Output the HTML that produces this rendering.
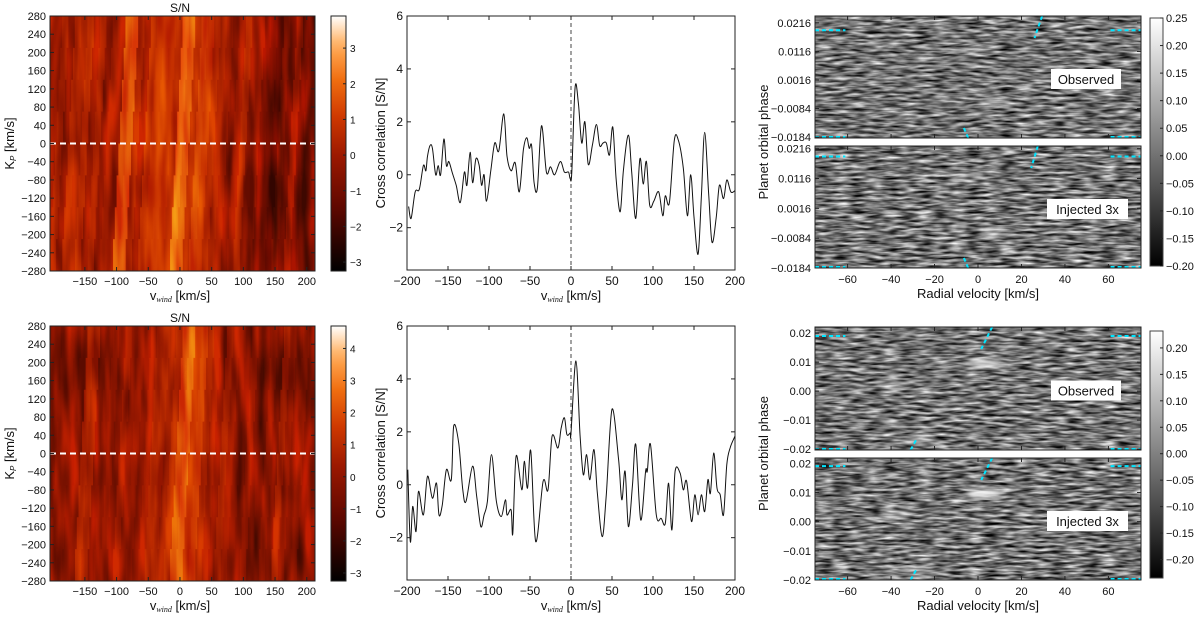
<!DOCTYPE html>
<html><head><meta charset="utf-8"><style>
body{margin:0;background:#fff}
svg{display:block;font-family:"Liberation Sans","DejaVu Sans",sans-serif}
</style></head><body>
<svg id="fig" width="1200" height="618" viewBox="0 0 1200 618" xmlns="http://www.w3.org/2000/svg">
<defs>
<filter id="fire" x="0" y="0" width="100%" height="100%" color-interpolation-filters="sRGB">
<feTurbulence type="fractalNoise" baseFrequency="0.09 0.012" numOctaves="2" seed="3"/>
<feColorMatrix type="matrix" values="2 0 0 0 -0.5  2 0 0 0 -0.5  2 0 0 0 -0.5  0 0 0 0 1"/>
</filter>
<filter id="grain" x="0" y="0" width="100%" height="100%" color-interpolation-filters="sRGB">
<feTurbulence type="fractalNoise" baseFrequency="0.06 0.35" numOctaves="2" seed="7"/>
<feColorMatrix type="matrix" values="1.4 0 0 0 -0.25  1.4 0 0 0 -0.25  1.4 0 0 0 -0.25  0 0 0 0 1"/>
</filter>
<filter id="grain2" x="0" y="0" width="100%" height="100%" color-interpolation-filters="sRGB">
<feTurbulence type="fractalNoise" baseFrequency="0.06 0.35" numOctaves="2" seed="11"/>
<feColorMatrix type="matrix" values="1.4 0 0 0 -0.25  1.4 0 0 0 -0.25  1.4 0 0 0 -0.25  0 0 0 0 1"/>
</filter>
<filter id="blur3"><feGaussianBlur stdDeviation="3"/></filter>
</defs>
</svg>
<script>
// ---------- data ----------
const heatCols = [-220,-210,-200,-190,-180,-170,-160,-150,-140,-130,-120,-110,-100,-90,-80,-70,-60,-50,-40,-30,-20,-10,0,10,20,30,40,50,60,70,80,90,100,110,120,130,140,150,160,170,180,190,200,210,220];
const heatTop = [0.5,0.5,0.5,0.8,0.3,1,0.8,1.2,0.5,0.8,0.3,0.6,0.5,2,2.2,1,0.5,1.3,1.5,1.6,1.5,1.3,2.5,2.2,1.2,1.8,1.6,1.2,0.8,0.6,0.2,0.5,0.9,0.4,0.3,-0.3,-0.5,-0.8,-0.2,-0.5,0.3,-0.5,-0.3,-0.3,-0.3];
const heatBot = [0.3,0.3,0.3,0.5,0.6,0.4,0.6,1.5,1.2,0.3,0.5,0.8,0.4,1.0,0.6,0.8,0.5,0.9,1.3,1.5,1.2,1.6,2.5,2.8,2.0,2.2,1.4,1.0,0.6,1.2,0.9,0.6,0.4,0.8,0.3,0.2,0.6,0.3,1.2,0.8,0.4,0.6,0.2,0.3,0.3];
const kpTicks = [280,240,200,160,120,80,40,0,-40,-80,-120,-160,-200,-240,-280];
const vwTicks = [-150,-100,-50,0,50,100,150,200];
const ccTicksX = [-200,-150,-100,-50,0,50,100,150,200];
const ccTicksY = [6,4,2,0,-2];
const ccTopV = [-198,-195,-190,-185,-180,-177,-175,-172,-169,-165,-162,-159,-155,-152,-149,-145,-140,-135,-130,-127,-123,-120,-116,-112,-109,-106,-103,-98,-93,-88,-82,-78,-73,-68,-63,-58,-54,-51,-48,-45,-41,-36,-30,-25,-20,-13,-8,-3,-1,1,5,9,13,17,21,26,31,35,39,43,47,51,55,60,64,70,74,79,84,88,92,96,101,107,112,115,120,126,131,137,142,146,150,155,159,163,168,172,177,181,186,190,195,200];
const ccTopS = [-1.2,-1.65,-0.65,-0.55,0.35,0.15,0.7,1.1,1.0,0,0.35,0,1.35,0.35,0.5,0.1,-0.4,-1.05,0.1,-0.4,0.85,-0.3,0.6,0.35,-0.4,0,-1,0.1,1.2,0.9,2.3,0.7,0.15,0.45,-0.65,0.95,1.4,1.0,1.1,-0.3,-0.5,1.85,0.1,0.3,0,0.5,0.1,0.1,-0.15,0.1,3.3,2.7,1.2,2.0,0.4,1.1,1.9,1.1,1.2,1.2,0.75,1.8,-0.15,-1.4,0.2,1.5,0.1,-1.65,0.6,-0.35,0.5,-1.15,-1,-0.65,-1.55,-0.8,-1.05,1.3,1.3,0.25,-1.55,0,-1.6,-3.0,-0.8,1.6,-0.8,-2.55,-1.65,-0.4,-0.9,-0.2,-0.65,-0.6];
const ccBotV = [-199,-196,-193,-189,-186,-180,-175,-169,-164,-161,-157,-152,-146,-143,-137,-132,-128,-120,-115,-110,-106,-102,-97,-91,-85,-80,-78,-73,-71,-67,-60,-57,-53,-49,-43,-34,-28,-23,-16,-12,-8,-5,-1,0,6,11,15,19,23,28,32,38,43,50,58,62,66,70,75,79,85,91,93,97,104,110,115,119,123,127,133,137,141,147,151,155,159,163,167,170,174,178,182,186,190,194,200];
const ccBotS = [0.57,-2.15,-0.82,-1.77,-0.25,-1.14,0.32,-0.51,0.06,-1.14,-0.76,0.57,0.19,2.22,1.58,-0.19,-0.63,0.7,-0.44,-1.58,-1.14,-0.63,1.14,-0.63,-1.2,-0.57,-1.14,-0.95,-1.84,1.08,-0.19,0.89,-0.13,1.27,-2.15,0.13,-0.19,1.84,1.39,2.15,2.53,1.9,1.96,1.96,4.68,1.9,0.38,1.14,0.19,1.33,-0.25,-1.96,-0.38,2.85,0.95,-0.57,0.51,-1.58,0,1.52,-1.33,0.51,0.51,1.52,-1.14,-1.27,-1.46,0.06,-1.71,0.51,0.44,-0.19,0.13,-1.39,-0.38,-1.14,-0.38,-1.01,0.19,-0.32,1.2,-0.13,-0.38,-1.14,0.76,1.39,1.84];
const rvTicks = [-60,-40,-20,0,20,40,60];
const phTicksA = [0.0216,0.0116,0.0016,-0.0084,-0.0184];
const phLabelsA = ["0.0216","0.0116","0.0016","\u22120.0084","\u22120.0184"];
const phTicksB = [0.02,0.01,0.00,-0.01,-0.02];
const phLabelsB = ["0.02","0.01","0.00","\u22120.01","\u22120.02"];
const cbHeatTopTicks = [3,2,1,0,-1,-2,-3];
const cbHeatBotTicks = [4,3,2,1,0,-1,-2,-3];
const cbGrayTopTicks = [0.25,0.20,0.15,0.10,0.05,0.00,-0.05,-0.10,-0.15,-0.20];
const cbGrayBotTicks = [0.20,0.15,0.10,0.05,0.00,-0.05,-0.10,-0.15,-0.20];
const blobsTop = [[8,-0.006,0.5],[-5,0.012,0.35]];
const blobsBot = [[3,0.0095,1.0],[-28,-0.017,0.5],[-38,0.002,0.4]];

// ---------- helpers ----------
const svg = document.getElementById('fig');
const NS = 'http://www.w3.org/2000/svg';
function mk(tag, attrs, parent){ const e=document.createElementNS(NS,tag); for(const k in attrs) e.setAttribute(k,attrs[k]); (parent||svg).appendChild(e); return e; }
function lin(d0,d1,r0,r1){ return v=> r0+(v-d0)*(r1-r0)/(d1-d0); }
function txt(x,y,s,anchor,size,parent,name){ const t=mk('text',{x:x,y:y,'text-anchor':anchor||'middle','font-size':size||11,fill:'#111'},parent); t.textContent=s;   return t; }
function fmt(v){ return v<0 ? '\u2212'+Math.abs(v) : ''+v; }
function fmt2(v){ const s=Math.abs(v).toFixed(2); return v<0 ? '\u2212'+s : s; }
const fireStops=[[0,[0,0,0]],[0.25,[95,8,0]],[0.45,[155,24,0]],[0.6,[205,55,0]],[0.75,[240,110,16]],[0.88,[255,170,85]],[1,[255,255,255]]];
function fireT(t){ t=Math.max(0,Math.min(1,t)); for(let i=1;i<fireStops.length;i++){ if(t<=fireStops[i][0]){ const a=fireStops[i-1],b=fireStops[i]; const u=(t-a[0])/(b[0]-a[0]); const c=a[1].map((x,j)=>Math.round(x+(b[1][j]-x)*u)); return 'rgb('+c.join(',')+')'; } } return 'rgb(255,255,255)'; }
function frame(g,x0,y0,w,h){ const r=mk('rect',{x:x0,y:y0,width:w,height:h,fill:'none',stroke:'#222','stroke-width':1},g);   }
function tickX(g,px,y0,y1,len){ mk('line',{x1:px,x2:px,y1:y1,y2:y1-len,stroke:'#222'},g); mk('line',{x1:px,x2:px,y1:y0,y2:y0+len,stroke:'#222'},g); }
function tickY(g,py,x0,x1,len){ mk('line',{x1:x0,x2:x0+len,y1:py,y2:py,stroke:'#222'},g); mk('line',{x1:x1,x2:x1-len,y1:py,y2:py,stroke:'#222'},g); }
function smoothPath(pts){ let d='M'+pts[0][0].toFixed(1)+','+pts[0][1].toFixed(1); for(let i=0;i<pts.length-1;i++){ const p0=pts[Math.max(0,i-1)],p1=pts[i],p2=pts[i+1],p3=pts[Math.min(pts.length-1,i+2)]; const c1=[p1[0]+(p2[0]-p0[0])/6,p1[1]+(p2[1]-p0[1])/6]; const c2=[p2[0]-(p3[0]-p1[0])/6,p2[1]-(p3[1]-p1[1])/6]; d+=' C'+c1[0].toFixed(1)+','+c1[1].toFixed(1)+' '+c2[0].toFixed(1)+','+c2[1].toFixed(1)+' '+p2[0].toFixed(1)+','+p2[1].toFixed(1);} return d; }
function xTitle(g,cx,y){ const t=mk('text',{x:cx,y:y,'text-anchor':'middle','font-size':13,fill:'#111'},g);   t.innerHTML='v<tspan font-size="8" font-style="italic" font-family="Liberation Serif, serif" dy="2">wind</tspan><tspan dy="-2"> [km/s]</tspan>'; }

// ---------- S/N heatmap ----------
function heatPanel(oy, prof, cmax, cbTicks, idx){
  const g=mk('g',{});  
  const x0=50,x1=315,y0=16+oy,y1=271+oy;
  const cmin=-3.25;
  const col=v=>fireT((v-cmin)/(cmax-cmin));
  const X=lin(-205,213,x0,x1), Y=lin(280,-280,y0,y1);
  const clip='clipH'+idx; const cp=mk('clipPath',{id:clip},g); mk('rect',{x:x0,y:y0,width:x1-x0,height:y1-y0},cp);
  const hg=mk('g',{'clip-path':'url(#'+clip+')'},g);
  const nrows=8;
  for(let r=0;r<nrows;r++){
    const kTop=280-560*r/nrows, kBot=280-560*(r+1)/nrows;
    const shift=(kTop+kBot)/2*0.04;
    heatCols.forEach((v,i)=>{
      const c=mk('rect',{x:X(v-5+shift)-0.5,y:Y(kTop),width:X(v+5)-X(v-5)+1,height:Y(kBot)-Y(kTop)+0.5,fill:col(prof[i]-0.5)},hg);
       
    });
  }
  const tex=mk('rect',{x:x0,y:y0,width:x1-x0,height:y1-y0,filter:'url(#fire)',opacity:0.5,style:'mix-blend-mode:overlay'},hg);
   
  const dl=mk('line',{x1:x0,x2:x1,y1:Y(0),y2:Y(0),stroke:'#fff','stroke-width':2,'stroke-dasharray':'6,4'},g);
   
  frame(g,x0,y0,x1-x0,y1-y0);
  kpTicks.forEach(k=>{ tickY(g,Y(k),x0,x1,4); txt(46,Y(k)+4,fmt(k),'end',11,g,'y-tick-label'); });
  vwTicks.forEach(v=>{ tickX(g,X(v),y0,y1,4); txt(X(v),y1+14,fmt(v),'middle',11,g,'x-tick-label'); });
  txt(180,y0-4,'S/N','middle',12,g,'panel-title');
  xTitle(g,180,y1+29);
  const yl=mk('text',{x:0,y:0,'text-anchor':'middle','font-size':13,fill:'#111',transform:'translate(14,'+((y0+y1)/2)+') rotate(-90)'},g);
   
  yl.innerHTML='K<tspan font-size="8" font-style="italic" dy="2">P</tspan><tspan dy="-2"> [km/s]</tspan>';
  const cx0=331,cx1=346; const C=lin(cmax,cmin,y0,y1);
  const gid='gradH'+idx; const lg=mk('linearGradient',{id:gid,x1:0,y1:0,x2:0,y2:1},g);
  for(let s=0;s<=20;s++){ mk('stop',{offset:(s*5)+'%','stop-color':fireT(1-s/20)},lg); }
  const cb=mk('rect',{x:cx0,y:y0,width:cx1-cx0,height:y1-y0,fill:'url(#'+gid+')',stroke:'#222'},g);
   
  cbTicks.forEach(t=>{ mk('line',{x1:cx1-3,x2:cx1,y1:C(t),y2:C(t),stroke:'#222'},g); txt(cx1+4,C(t)+4,fmt(t),'start',10,g,'colorbar-tick-label'); });
}

// ---------- cross-correlation ----------
function ccPanel(oy, V, S, idx){
  const g=mk('g',{});  
  const x0=407,x1=735,y0=16+oy,y1=270+oy;
  const X=lin(-200,200,x0,x1), Y=lin(6,-3.6,y0,y1);
  frame(g,x0,y0,x1-x0,y1-y0);
  const zl=mk('line',{x1:X(0),x2:X(0),y1:y0,y2:y1,stroke:'#444','stroke-width':1,'stroke-dasharray':'4,3'},g);
   
  const pts=V.map((v,i)=>[X(v),Y(S[i])]);
  const p=mk('path',{d:smoothPath(pts),fill:'none',stroke:'#111','stroke-width':1},g);
   
  ccTicksX.forEach(v=>{ tickX(g,X(v),y0,y1,4); txt(X(v),y1+15,fmt(v),'middle',12,g,'x-tick-label'); });
  ccTicksY.forEach(v=>{ tickY(g,Y(v),x0,x1,4); txt(x0-4,Y(v)+4,fmt(v),'end',12,g,'y-tick-label'); });
  xTitle(g,(x0+x1)/2,y1+30);
  const yl=mk('text',{x:0,y:0,'text-anchor':'middle','font-size':13,fill:'#111',transform:'translate(385,'+((y0+y1)/2)+') rotate(-90)'},g);
  yl.textContent='Cross correlation [S/N]';
   
}

// ---------- trail panels ----------
function drawTrail(k){
  const g=mk('g',{});  
  const x0=815,x1=1141;
  const subs = k===0
    ? [[16,138,0.0240,-0.0187,'Observed','grain',[29.5,26,-4.5,-6.5]],[146,268,0.0225,-0.0184,'Injected 3x','grain2',[27.5,24.5,-4.5,-6.5]]]
    : [[327,450,0.0221,-0.0203,'Observed','grain',[6.5,1.5,-31,-28.5]],[458,580,0.0218,-0.02,'Injected 3x','grain2',[6.5,1.5,-31,-28.5]]];
  const ticks = k===0?phTicksA:phTicksB, labels=k===0?phLabelsA:phLabelsB;
  let X;
  subs.forEach((s,si)=>{
    const [y0,y1,pT,pB,label,filt,dg]=s;
    X=lin(-75,75,x0,x1); const Y=lin(pT,pB,y0,y1);
    const clip='clipT'+k+si; const cp=mk('clipPath',{id:clip},g); mk('rect',{x:x0,y:y0,width:x1-x0,height:y1-y0},cp);
    const cg=mk('g',{'clip-path':'url(#'+clip+')'},g);
    const bg=mk('rect',{x:x0,y:y0,width:x1-x0,height:y1-y0,filter:'url(#'+filt+')'},cg);
     
    (k===0?blobsTop:blobsBot).forEach(b=>{ const e=mk('ellipse',{cx:X(b[0]),cy:Y(b[1]),rx:18,ry:5,fill:'#fff',opacity:Math.min(1,b[2]*0.75*(si?1.15:1)),filter:'url(#blur3)'},cg);   });
    const hy=Y(0.019);
    [[-75,-61],[61,75]].forEach(r=>{ [hy,y1-1].forEach(yy=>{ const l=mk('line',{x1:X(r[0]),x2:X(r[1]),y1:yy,y2:yy,stroke:'#00e5ff','stroke-width':2,'stroke-dasharray':'4,3'},g);   }); });
    const d1=mk('line',{x1:X(dg[0]),y1:y0,x2:X(dg[1]),y2:y0+22,stroke:'#00e5ff','stroke-width':2,'stroke-dasharray':'4,3'},g);
     
    const d2=mk('line',{x1:X(dg[2]),y1:y1,x2:X(dg[3]),y2:y1-10,stroke:'#00e5ff','stroke-width':2,'stroke-dasharray':'4,3'},g);
     
    frame(g,x0,y0,x1-x0,y1-y0);
    ticks.forEach((t,i)=>{ tickY(g,Y(t),x0,x1,4); txt(x0-4,Y(t)+4,labels[i],'end',11,g,'y-tick-label'); });
    rvTicks.forEach(v=>tickX(g,X(v),y0,y1,4));
    const bw=label.length>9?81:70, bx=label.length>9?1047:1051, by=(y0+y1)/2-8;
    const box=mk('rect',{x:bx,y:by,width:bw,height:20,fill:'#fff'},g);
     
    txt(bx+bw/2,by+15,label,'middle',13,g,'panel-label');
  });
  const bot1=subs[1][1], top0=subs[0][0];
  rvTicks.forEach(v=>txt(X(v),bot1+15,fmt(v),'middle',11,g,'x-tick-label'));
  txt((x0+x1)/2,bot1+30,'Radial velocity [km/s]','middle',13,g,'x-axis-title');
  const yl=mk('text',{x:0,y:0,'text-anchor':'middle','font-size':13,fill:'#111',transform:'translate(768,'+((top0+bot1)/2)+') rotate(-90)'},g);
  yl.textContent='Planet orbital phase';  
  const cb0=k===0?18:331, cb1=k===0?266:578, cmax=k===0?0.25:0.232, cmin=k===0?-0.2:-0.235;
  const C=lin(cmax,cmin,cb0,cb1);
  const gid='gradG'+k; const lg=mk('linearGradient',{id:gid,x1:0,y1:0,x2:0,y2:1},g);
  mk('stop',{offset:'0%','stop-color':'#fff'},lg); mk('stop',{offset:'100%','stop-color':'#000'},lg);
  const cb=mk('rect',{x:1150,y:cb0,width:13,height:cb1-cb0,fill:'url(#'+gid+')',stroke:'#444'},g);
   
  (k===0?cbGrayTopTicks:cbGrayBotTicks).forEach(t=>{ mk('line',{x1:1160,x2:1163,y1:C(t),y2:C(t),stroke:'#222'},g); txt(1166,C(t)+4,fmt2(t),'start',11,g,'colorbar-tick-label'); });
}

heatPanel(0, heatTop, 3.9, cbHeatTopTicks, 0);
heatPanel(310, heatBot, 4.7, cbHeatBotTicks, 1);
ccPanel(0, ccTopV, ccTopS, 0);
ccPanel(310, ccBotV, ccBotS, 1);
drawTrail(0);
drawTrail(1);
</script>
</body></html>
